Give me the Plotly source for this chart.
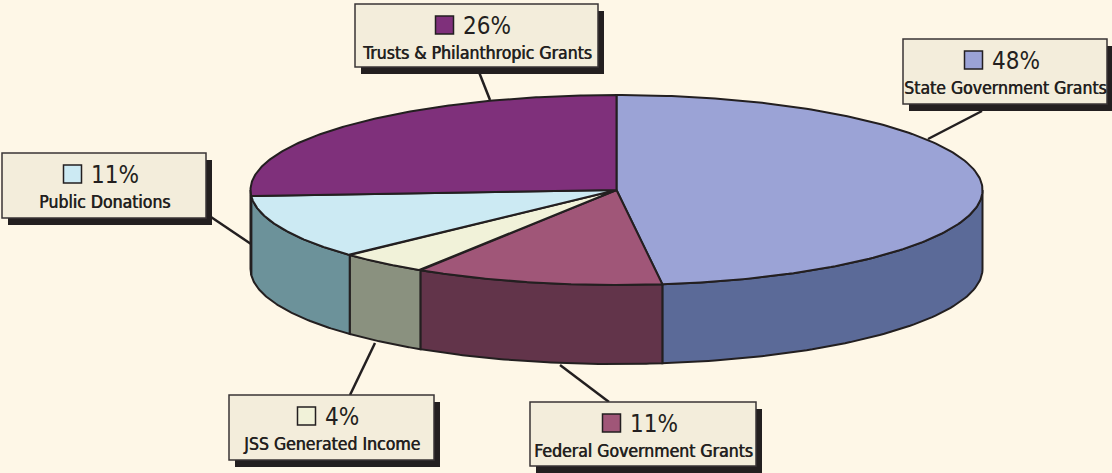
import numpy as np
import plotly.graph_objects as go

# ---------------- data ----------------
categories = ["State Government Grants", "Federal Government Grants",
              "JSS Generated Income", "Public Donations",
              "Trusts & Philanthropic Grants"]
values = [48, 11, 4, 11, 26]
pct_labels = ["48%", "11%", "4%", "11%", "26%"]

# ---------------- style ----------------
top_colors = ["#9BA3D6", "#A05678", "#F1F2D9", "#CCEAF3", "#7F307B"]
side_colors = ["#5B6A98", "#62344A", "#8A917F", "#6C929A", "#5A2258"]
BG = "#FEF7E7"
BOX = "#F3EDDB"
INK = "#231F20"

W, H = 1112, 473
CX, CY, RX, RY, DEPTH = 616.5, 190.0, 366.0, 95.0, 79.0

# label box layout: box (x0, y0, x1, y1), leader line (x0, y0, x1, y1)
label_boxes = [
    (903, 39, 1107, 104),
    (530, 402, 756, 466),
    (229, 395, 434, 460),
    (2, 153, 206, 218),
    (355, 4, 598, 67),
]
leaders = [
    (982, 111, 928, 139),
    (609, 402, 560, 365),
    (350, 395, 375, 343),
    (208, 215, 251, 244),
    (477, 67, 490, 100),
]
pct_text_width = [49, 49, 36, 49, 50]

FONT = "DejaVu Sans Condensed, Liberation Sans Narrow, Arial Narrow, sans-serif"


def ell(theta_deg, dy=0.0):
    t = np.radians(theta_deg)
    return CX + RX * np.cos(t), CY - RY * np.sin(t) + dy


fig = go.Figure()

# slice angles: start at 12 o'clock, clockwise
total = float(sum(values))
starts, ends = [], []
a = 90.0
for v in values:
    starts.append(a)
    a = a - 360.0 * v / total
    ends.append(a)

# side walls (front half: angles between -180 and 0)
for i in range(len(values)):
    s, e = starts[i], ends[i]
    hi = min(s, 0.0)
    lo = max(e, -180.0)
    if hi <= lo:
        continue
    th = np.linspace(hi, lo, 80)
    xt, yt = ell(th)
    xb, yb = ell(th[::-1], DEPTH)
    xs = np.concatenate([xt, xb, xt[:1]])
    ys = np.concatenate([yt, yb, yt[:1]])
    fig.add_trace(go.Scatter(x=xs, y=ys, mode="lines", fill="toself",
                             fillcolor=side_colors[i],
                             line=dict(color=INK, width=2),
                             hoverinfo="skip", showlegend=False))

# top faces
for i in range(len(values)):
    th = np.linspace(starts[i], ends[i], 200)
    xa, ya = ell(th)
    xs = np.concatenate([[CX], xa, [CX]])
    ys = np.concatenate([[CY], ya, [CY]])
    fig.add_trace(go.Scatter(x=xs, y=ys, mode="lines", fill="toself",
                             fillcolor=top_colors[i],
                             line=dict(color=INK, width=2),
                             hoverinfo="skip", showlegend=False,
                             name=categories[i]))

shapes = []
annotations = []
for i in range(len(values)):
    x0, y0, x1, y1 = label_boxes[i]
    lx0, ly0, lx1, ly1 = leaders[i]
    shapes.append(dict(type="line", xref="x", yref="y", x0=lx0, y0=ly0,
                       x1=lx1, y1=ly1, line=dict(color=INK, width=2.5),
                       layer="below"))
    shapes.append(dict(type="rect", xref="x", yref="y", x0=x0 + 6, y0=y0 + 7,
                       x1=x1 + 6, y1=y1 + 7, fillcolor=INK,
                       line=dict(width=0), layer="above"))
    shapes.append(dict(type="rect", xref="x", yref="y", x0=x0, y0=y0,
                       x1=x1, y1=y1, fillcolor=BOX,
                       line=dict(color="#3A3536", width=1.5), layer="above"))
    cxb = (x0 + x1) / 2 - 3
    gw = 18 + 8 + pct_text_width[i]
    sq0 = cxb - gw / 2
    shapes.append(dict(type="rect", xref="x", yref="y", x0=sq0, y0=y0 + 12,
                       x1=sq0 + 18, y1=y0 + 30, fillcolor=top_colors[i],
                       line=dict(color=INK, width=1.5), layer="above"))
    annotations.append(dict(x=sq0 + 25, y=y0 + 22, xref="x", yref="y",
                            text=pct_labels[i], showarrow=False,
                            xanchor="left", yanchor="middle",
                            font=dict(family=FONT, size=24, color=INK)))
    annotations.append(dict(x=(x0 + x1) / 2, y=y0 + 49, xref="x", yref="y",
                            text=categories[i].replace("&", "&amp;"),
                            showarrow=False,
                            xanchor="center", yanchor="middle",
                            font=dict(family=FONT, size=17.5, color=INK,
                                      shadow="0.6px 0px 0px #231F20")))

fig.update_layout(
    width=W, height=H,
    margin=dict(l=0, r=0, t=0, b=0),
    paper_bgcolor=BG, plot_bgcolor=BG,
    xaxis=dict(range=[0, W], visible=False, fixedrange=True),
    yaxis=dict(range=[H, 0], visible=False, fixedrange=True),
    shapes=shapes, annotations=annotations,
    showlegend=False,
)

fig.write_html(
    "out.html",
    config={"displayModeBar": False},
    post_script="document.body.style.margin='0';document.body.style.background='%s';" % BG,
)
